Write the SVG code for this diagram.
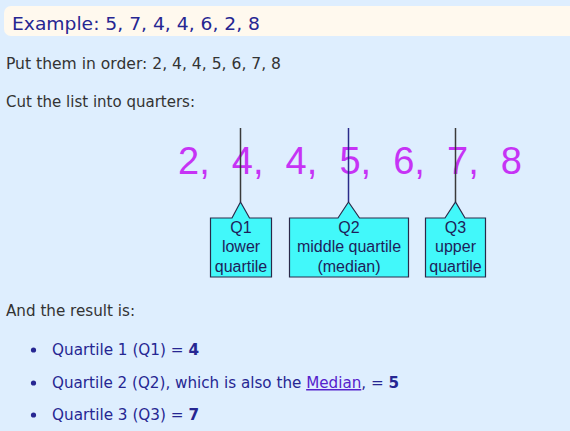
<svg xmlns="http://www.w3.org/2000/svg" width="570" height="431" viewBox="0 0 570 431">
<style>
.prose{font-family:"DejaVu Sans",Verdana,sans-serif;font-size:15px;fill:#333}
.blue{font-family:"DejaVu Sans",Verdana,sans-serif;font-size:15px;fill:#262692}
.num{font-family:"Liberation Sans",Arial,sans-serif;font-size:38px;fill:#c633f5}
.lbl{font-family:"Liberation Sans",Arial,sans-serif;font-size:16px;fill:#1e1e5a;text-anchor:middle}
.box{fill:#42f8fa;stroke:#2a2a4a;stroke-width:1.2}
.pin{stroke:#3a3a3a;stroke-width:1.5}
</style>
<rect width="570" height="431" fill="#deeefe"/>
<rect x="4" y="6" width="580" height="30" rx="7" fill="#fff9ee"/>
<text x="12" y="30" class="blue" style="font-size:18.5px" textLength="248" lengthAdjust="spacingAndGlyphs">Example: 5, 7, 4, 4, 6, 2, 8</text>
<text x="6" y="69" class="prose" textLength="275" lengthAdjust="spacingAndGlyphs">Put them in order: 2, 4, 4, 5, 6, 7, 8</text>
<text x="6" y="107" class="prose" textLength="189" lengthAdjust="spacingAndGlyphs">Cut the list into quarters:</text>
<g id="numbers">
<text x="178" y="173.5" class="num">2,</text>
<text x="231.8" y="173.5" class="num">4,</text>
<text x="285.6" y="173.5" class="num">4,</text>
<text x="339.4" y="173.5" class="num">5,</text>
<text x="393.2" y="173.5" class="num">6,</text>
<text x="447" y="173.5" class="num">7,</text>
<text x="500.8" y="173.5" class="num">8</text>
</g>
<g id="connectors">
<line x1="240.5" y1="128" x2="240.5" y2="202" class="pin"/>
<line x1="348.5" y1="128" x2="348.5" y2="202" class="pin" style="stroke:#2a2a8a"/>
<line x1="455.5" y1="128" x2="455.5" y2="202" class="pin"/>
</g>
<g id="q1">
<path class="box" d="M210.5 218 H232 L240.5 202 L249.5 218 H271.5 V277 H210.5 Z"/>
<text x="241" y="232.5" class="lbl">Q1</text>
<text x="241" y="252" class="lbl">lower</text>
<text x="241" y="271.5" class="lbl">quartile</text>
</g>
<g id="q2">
<path class="box" d="M289.5 218 H338 L348.5 202 L359.5 218 H408.5 V277 H289.5 Z"/>
<text x="349" y="232.5" class="lbl">Q2</text>
<text x="349" y="252" class="lbl">middle quartile</text>
<text x="349" y="271.5" class="lbl">(median)</text>
</g>
<g id="q3">
<path class="box" d="M425.5 218 H445 L455.5 202 L465 218 H485.5 V277 H425.5 Z"/>
<text x="455.5" y="232.5" class="lbl">Q3</text>
<text x="455.5" y="252" class="lbl">upper</text>
<text x="455.5" y="271.5" class="lbl">quartile</text>
</g>
<text x="6" y="316" class="prose" textLength="129" lengthAdjust="spacingAndGlyphs">And the result is:</text>
<g fill="#262692">
<circle cx="33.5" cy="350" r="2.6"/>
<circle cx="33.5" cy="383" r="2.6"/>
<circle cx="33.5" cy="415" r="2.6"/>
</g>
<text x="52" y="355" class="blue" textLength="147" lengthAdjust="spacingAndGlyphs">Quartile 1 (Q1) = <tspan font-weight="bold">4</tspan></text>
<text x="52" y="388" class="blue" textLength="347" lengthAdjust="spacingAndGlyphs">Quartile 2 (Q2), which is also the <tspan fill="#5522cc" text-decoration="underline">Median</tspan>, = <tspan font-weight="bold">5</tspan></text>
<text x="52" y="420" class="blue" textLength="147" lengthAdjust="spacingAndGlyphs">Quartile 3 (Q3) = <tspan font-weight="bold">7</tspan></text>
</svg>
